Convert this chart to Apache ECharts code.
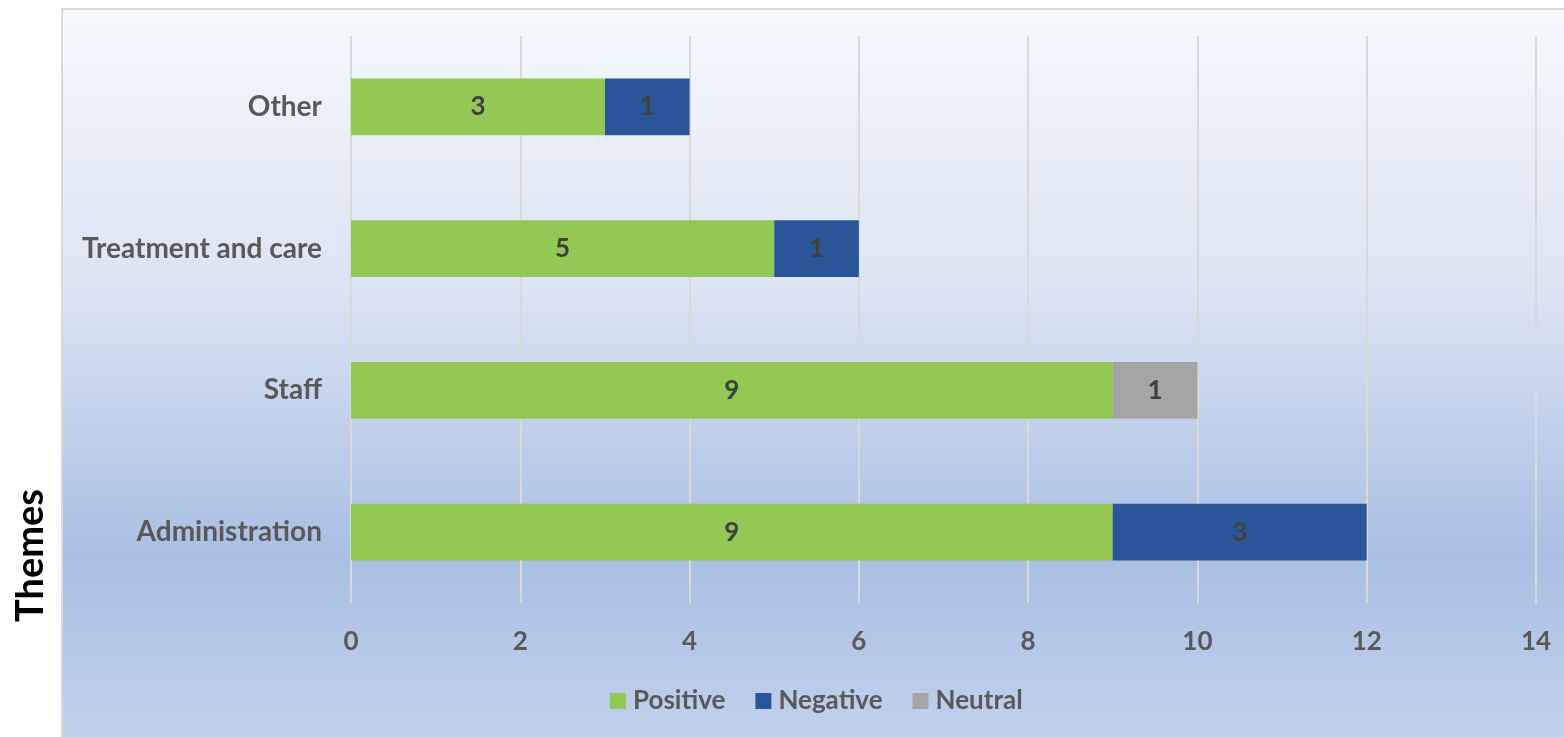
<!DOCTYPE html>
<html>
<head>
<meta charset="utf-8">
<script src="https://cdn.jsdelivr.net/npm/echarts@6/dist/echarts.min.js"></script>
<style>
  html, body { margin: 0; padding: 0; background: #ffffff; }
  #chart { width: 1564px; height: 737px; }
</style>
</head>
<body>
<div id="chart"></div>
<script>
// Themes, bottom to top on the category axis
const categories = ['Administration', 'Staff', 'Treatment and care', 'Other'];
const positive = [9, 9, 5, 3];
const negative = [3, 0, 1, 1];
const neutral = [0, 1, 0, 0];
const xTicks = [0, 2, 4, 6, 8, 10, 12, 14];

const FONT = 'Lato';
const chart = echarts.init(document.getElementById('chart'));

function labelFor(v) {
  return v > 0 ? String(v) : '';
}

function barSeries(name, values, color) {
  return {
    name: name,
    type: 'bar',
    stack: 'total',
    barWidth: '40%',
    itemStyle: { color: color },
    label: {
      show: true,
      position: 'inside',
      fontFamily: FONT,
      fontWeight: 'bold',
      fontSize: 26,
      color: '#404040',
      formatter: p => labelFor(p.value)
    },
    data: values
  };
}

chart.setOption({
  animation: false,
  graphic: [
    {
      type: 'rect',
      z: -10,
      shape: { x: 62, y: 9, width: 1600, height: 800 },
      style: {
        fill: new echarts.graphic.LinearGradient(0, 0, 0, 1, [
          { offset: 0, color: '#f6f8fd' },
          { offset: 0.35, color: '#dbe4f3' },
          { offset: 0.68, color: '#a9bfe3' },
          { offset: 1, color: '#cad8ef' }
        ]),
        stroke: '#d9d9d9',
        lineWidth: 2
      }
    },
    {
      type: 'text',
      left: 12,
      top: 489,
      rotation: Math.PI / 2,
      style: {
        text: 'Themes',
        fontFamily: FONT,
        fontSize: 38,
        fontWeight: 'bold',
        fill: '#000000'
      }
    }
  ],
  grid: { left: 351, right: 28, top: 36, bottom: 134 },
  legend: {
    bottom: 18,
    left: 605,
    itemWidth: 16,
    itemHeight: 16,
    itemGap: 30,
    icon: 'rect',
    textStyle: { fontFamily: FONT, fontSize: 26, fontWeight: 'bold', color: '#595959', padding: [0, 0, 0, 2] },
    data: ['Positive', 'Negative', 'Neutral']
  },
  xAxis: {
    type: 'value',
    min: xTicks[0],
    max: xTicks[xTicks.length - 1],
    interval: 2,
    axisLine: { show: false },
    axisTick: { show: false },
    splitLine: { lineStyle: { color: '#d9d9d9', width: 2 } },
    axisLabel: {
      margin: 26,
      fontFamily: FONT,
      fontSize: 26,
      fontWeight: 'bold',
      color: '#595959'
    }
  },
  yAxis: {
    type: 'category',
    data: categories,
    axisLine: { show: false },
    axisTick: { show: false },
    axisLabel: {
      margin: 29,
      fontFamily: FONT,
      fontSize: 28,
      fontWeight: 'bold',
      color: '#595959'
    }
  },
  series: [
    barSeries('Positive', positive, '#92c853'),
    barSeries('Negative', negative, '#2a5699'),
    barSeries('Neutral', neutral, '#a5a5a5')
  ]
});
</script>
</body>
</html>
